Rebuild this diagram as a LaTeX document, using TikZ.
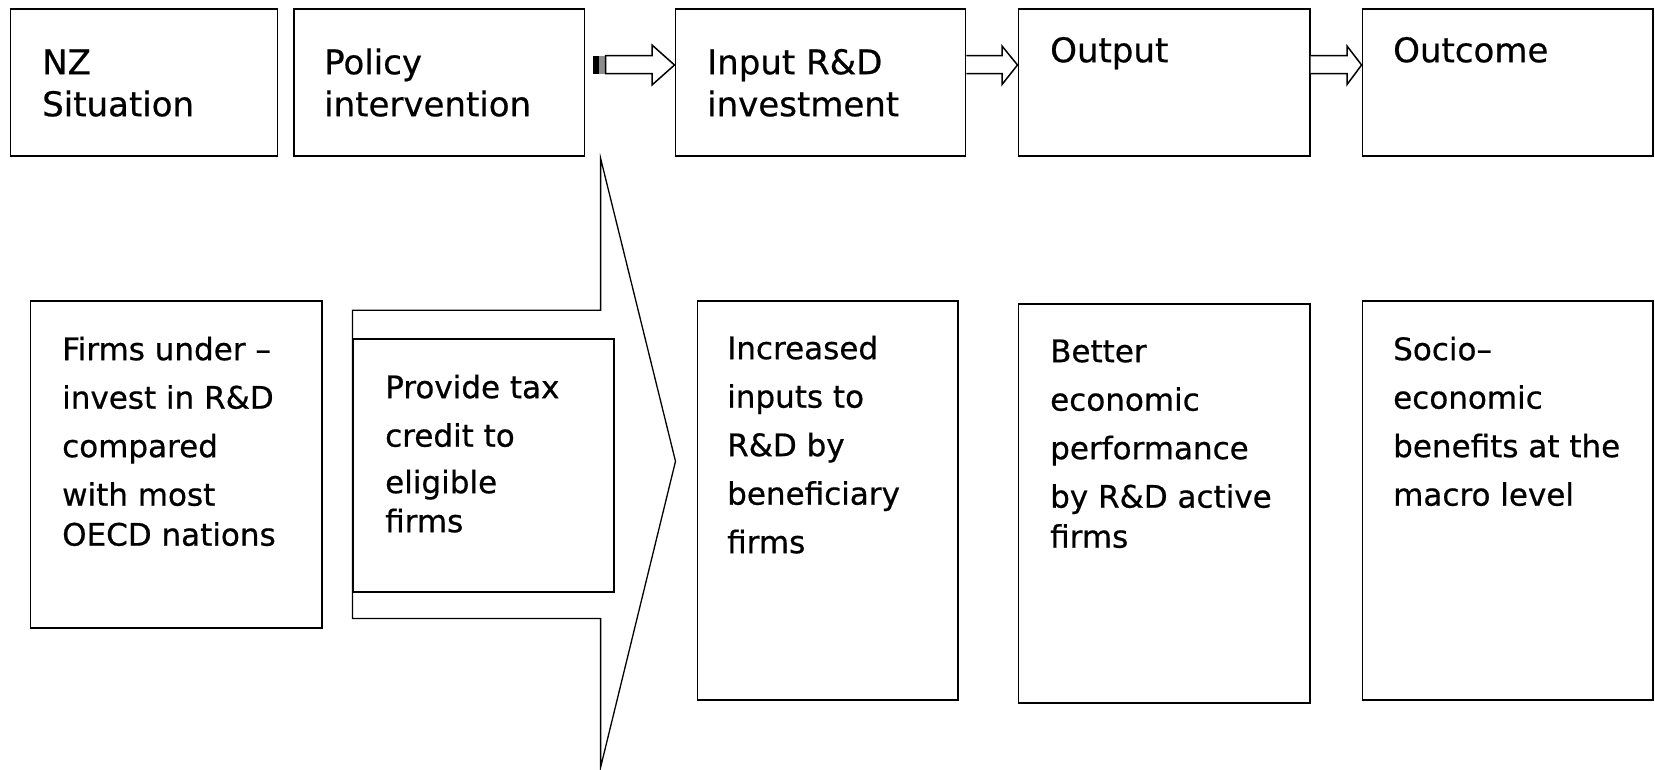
\documentclass[tikz,border=0pt]{standalone}
\usepackage{fontspec}
\setmainfont{DejaVu Sans}[FakeBold=0.6]
\usetikzlibrary{calc}
\begin{document}
\begin{tikzpicture}[x=1pt,y=-1pt,
  box/.style={draw, line width=1.7pt, fill=white, inner sep=0pt, anchor=north west},
  toplabel/.style={anchor=north west, inner sep=0pt, align=left, font=\fontsize{34}{42}\selectfont},
  lowlabel/.style={anchor=north west, inner sep=0pt, align=left, font=\fontsize{31}{48.5}\selectfont},
  blockarrow/.style={draw, line width=1.5pt, fill=white, line join=miter},
  bigarrow/.style={draw, line width=1.3pt, fill=white, line join=miter},
]
\useasboundingbox (0,0) rectangle (1655,769);

% ---- top row: stage headings
\node[box, minimum width=267pt,   minimum height=146.6pt] (nz)   at (9.5,8.4)    {};
\node[box, minimum width=290.3pt, minimum height=146.6pt] (pol)  at (293.4,8.4)  {};
\node[box, minimum width=290.2pt, minimum height=146.6pt] (inp)  at (674.5,8.4)  {};
\node[box, minimum width=291.3pt, minimum height=146.6pt] (outp) at (1017.5,8.4) {};
\node[box, minimum width=290.3pt, minimum height=146.6pt] (outc) at (1361.6,8.4) {};

\node[toplabel] (nzt)   at (42,44.6)   {\strut NZ\\Situation};
\node[toplabel] (polt)  at (324,44.6)  {\strut Policy\\intervention};
\node[toplabel] (inpt)  at (707,44.6)  {\strut Input R\&D\\investment};
\node[toplabel] (outpt) at (1050,32.6) {\strut Output};
\node[toplabel] (outct) at (1393,32.6) {\strut Outcome};

% ---- block arrows between the headings
% striped tail of the first arrow
\fill[black]    (593,55.5) rectangle (599,73.5);
\fill[black!45] (599,55.5) rectangle (604.5,73.5);
\path[blockarrow] (605.5,55.5) -- (652,55.5) -- (652,45) -- (inp.west |- 0,65) -- (652,85)
  -- (652,73.5) -- (605.5,73.5) -- cycle;
\path[blockarrow] (inp.east |- 0,55.5) -- (1002,55.5) -- (1002,46) -- (outp.west |- 0,65)
  -- (1002,84.5) -- (1002,73.5) -- (inp.east |- 0,73.5);
\path[blockarrow] (outp.east |- 0,55.5) -- (1347,55.5) -- (1347,46) -- (outc.west |- 0,65)
  -- (1347,84.5) -- (1347,73.5) -- (outp.east |- 0,73.5);

% ---- bottom row
\node[box, minimum width=291.3pt, minimum height=327.2pt] (firms) at (29.6,299.8) {};

% large arrow carrying the policy into the input stage
\path[bigarrow] (352.5,310.3) -- (600.6,310.3) -- (600.6,158.3) -- (675.5,461.3)
  -- (600.6,767.3) -- (600.6,618.5) -- (352.5,618.5) -- cycle;

\node[box, minimum width=260.7pt, minimum height=253.3pt] (prov)   at (352.5,337.8)  {};
\node[box, minimum width=260.7pt, minimum height=399pt]   (incr)   at (696.6,299.8)  {};
\node[box, minimum width=291.3pt, minimum height=399pt]   (better) at (1017.5,302.9) {};
\node[box, minimum width=290.3pt, minimum height=399pt]   (socio)  at (1361.6,299.8) {};

\node[lowlabel] (firmst) at (62,326)
  {\strut Firms under –\\invest in R\&D\\compared\\with most\\[-8.5pt]OECD nations};
\node[lowlabel] (provt) at (385,364)
  {\strut Provide tax\\credit to\\[-2pt]eligible\\[-9.5pt]firms};
\node[lowlabel] (incrt) at (727,325)
  {\strut Increased\\inputs to\\R\&D by\\beneficiary\\firms};
\node[lowlabel] (bettert) at (1050,328)
  {\strut Better\\economic\\performance\\by R\&D active\\[-8.5pt]firms};
\node[lowlabel] (sociot) at (1393,326)
  {\strut Socio–\\economic\\benefits at the\\macro level};
\end{tikzpicture}
\end{document}
